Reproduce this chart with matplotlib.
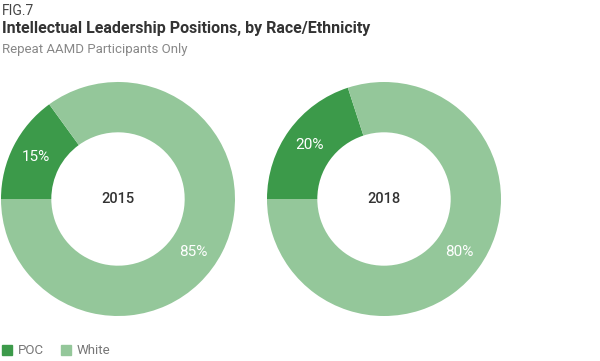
import numpy as np
import matplotlib.pyplot as plt

plt.rcParams['font.family'] = ['Roboto', 'DejaVu Sans']

years = ['2015', '2018']
groups = ['POC', 'White']
shares = [[15, 85], [20, 80]]
colors = ['#3c9a4a', '#94c79a']

fig = plt.figure(figsize=(6, 3.61), dpi=100)
W, H = 600, 361

# donut centres in pixels
centres = [(118, 199), (384, 199)]
R = 117

for (cx, cy), year, vals in zip(centres, years, shares):
    ax = fig.add_axes([(cx - R) / W, (H - cy - R) / H, 2 * R / W, 2 * R / H])
    wedges, texts, autotexts = ax.pie(
        vals, colors=colors, startangle=180, counterclock=False,
        radius=1, wedgeprops=dict(width=0.43, linewidth=0),
        autopct='%d%%', pctdistance=0.785,
        textprops=dict(color='white', fontsize=11))
    # big slice label sits lower-right in the original
    a = np.deg2rad(-35)
    autotexts[1].set_position((0.79 * np.cos(a), 0.79 * np.sin(a)))
    ax.text(0, 0, year, ha='center', va='center', fontsize=10.5,
            color='#333333', fontweight='medium')
    ax.set_xlim(-1, 1)
    ax.set_ylim(-1, 1)
    ax.set_aspect('equal')
    ax.axis('off')

fig.text(2 / W, 1 - 11 / H, 'FIG.7', fontsize=10, color='#444444', va='center')
fig.text(2 / W, 1 - 28 / H, 'Intellectual Leadership Positions, by Race/Ethnicity',
         fontsize=11.5, fontweight='bold', color='#333333', va='center')
fig.text(2 / W, 1 - 49 / H, 'Repeat AAMD Participants Only', fontsize=9.5,
         color='#888888', va='center')

# legend
lx = [2, 61]
for x, g, c in zip(lx, groups, colors):
    fig.patches.append(plt.Rectangle((x / W, 1 - 355 / H), 10 / W, 10 / H,
                                     transform=fig.transFigure, color=c))
    fig.text((x + 16) / W, 1 - 350 / H, g, fontsize=9.5, color='#777777', va='center')

fig.savefig('out.png', dpi=100)
